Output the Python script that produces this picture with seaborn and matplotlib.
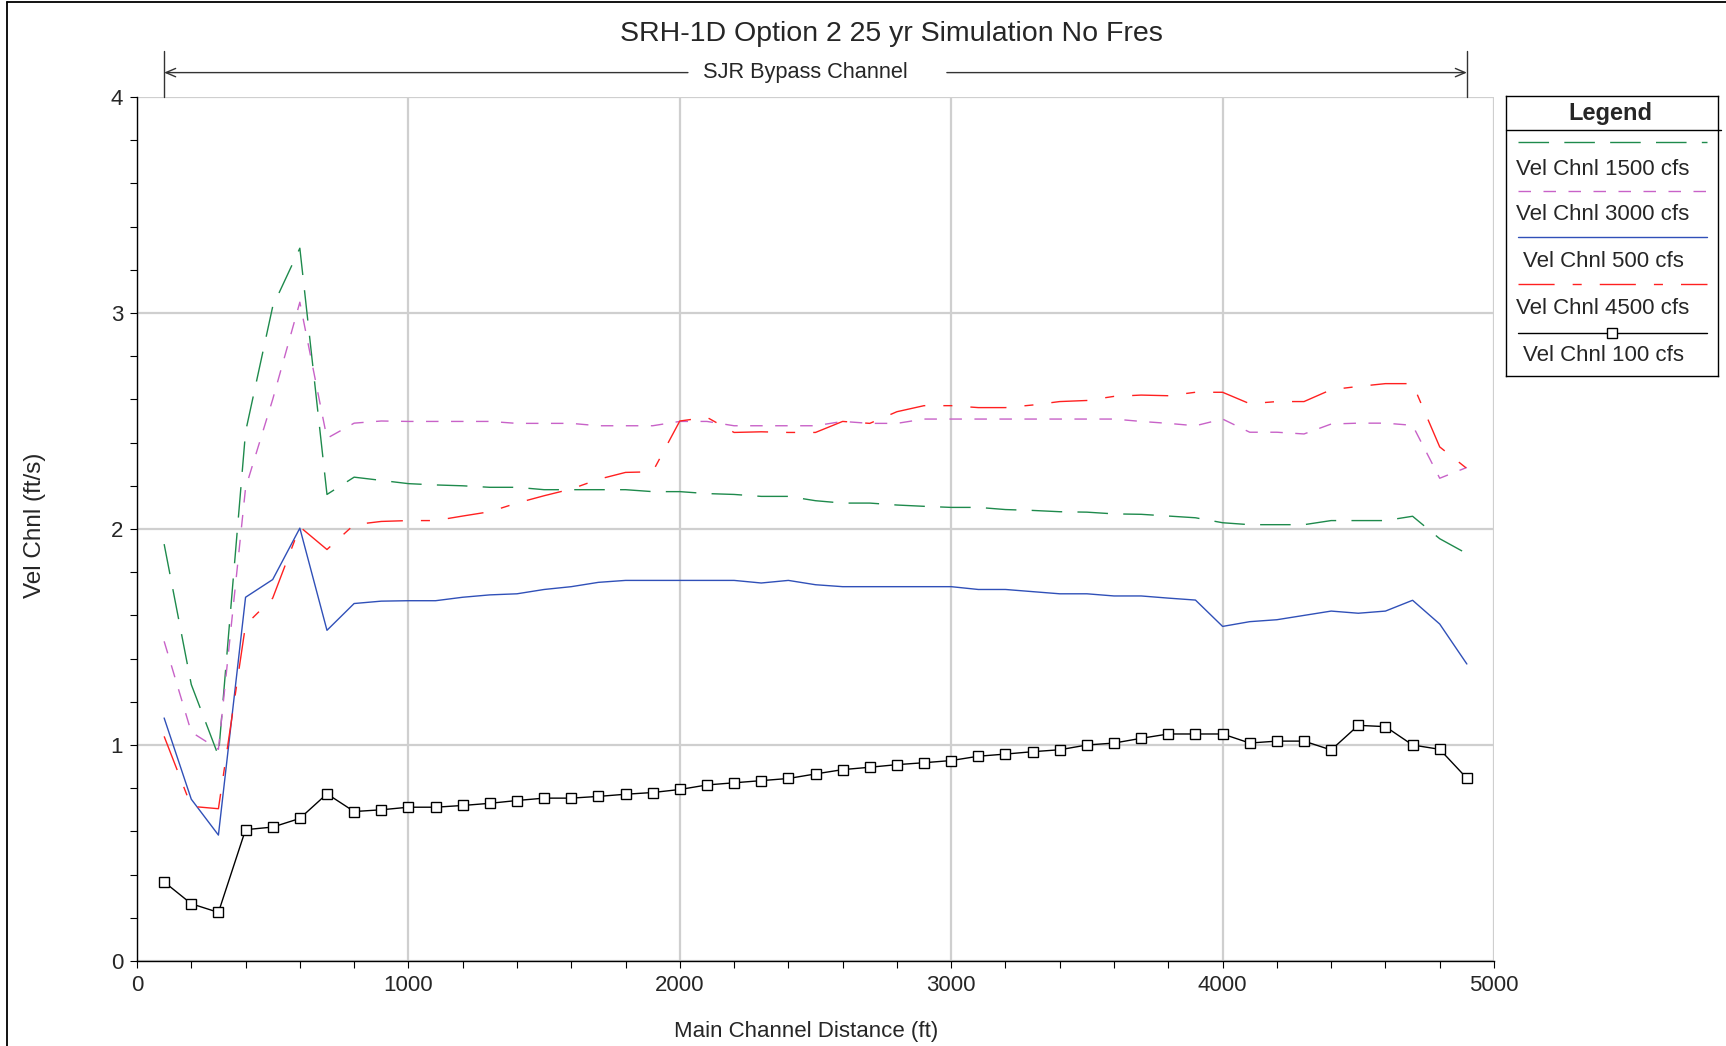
import numpy as np
import pandas as pd
import matplotlib
matplotlib.use("Agg")
import matplotlib.pyplot as plt
import matplotlib.transforms as mtransforms
from matplotlib.lines import Line2D
from matplotlib.ticker import MultipleLocator
import seaborn as sns

# ---------------- data ----------------
distance = [100, 200, 300, 400, 500, 600, 700, 800, 900, 1000,
            1100, 1200, 1300, 1400, 1500, 1600, 1700, 1800, 1900, 2000,
            2100, 2200, 2300, 2400, 2500, 2600, 2700, 2800, 2900, 3000,
            3100, 3200, 3300, 3400, 3500, 3600, 3700, 3800, 3900, 4000,
            4100, 4200, 4300, 4400, 4500, 4600, 4700, 4800, 4900]

vel_1500 = [1.93, 1.28, 0.95, 2.45, 3.03, 3.30, 2.16, 2.24, 2.225, 2.21,
            2.204, 2.20, 2.193, 2.193, 2.182, 2.182, 2.182, 2.182, 2.173, 2.173,
            2.164, 2.16, 2.151, 2.151, 2.131, 2.12, 2.12, 2.111, 2.105, 2.10,
            2.10, 2.09, 2.086, 2.08, 2.078, 2.07, 2.068, 2.06, 2.052, 2.029,
            2.02, 2.02, 2.02, 2.039, 2.039, 2.039, 2.059, 1.955, 1.886]

vel_3000 = [1.48, 1.06, 0.98, 2.19, 2.60, 3.05, 2.42, 2.49, 2.50, 2.498,
            2.498, 2.498, 2.498, 2.489, 2.489, 2.489, 2.478, 2.478, 2.478, 2.498,
            2.498, 2.478, 2.478, 2.478, 2.478, 2.498, 2.489, 2.489, 2.509, 2.509,
            2.509, 2.509, 2.509, 2.509, 2.509, 2.509, 2.498, 2.489, 2.478, 2.509,
            2.448, 2.448, 2.44, 2.486, 2.49, 2.49, 2.48, 2.235, 2.285]

vel_500 = [1.125, 0.749, 0.583, 1.684, 1.766, 2.004, 1.531, 1.655, 1.666, 1.668,
           1.668, 1.684, 1.695, 1.70, 1.72, 1.733, 1.753, 1.762, 1.762, 1.762,
           1.762, 1.762, 1.75, 1.762, 1.742, 1.733, 1.733, 1.733, 1.733, 1.733,
           1.72, 1.72, 1.71, 1.70, 1.70, 1.69, 1.69, 1.68, 1.671, 1.549,
           1.571, 1.58, 1.60, 1.62, 1.61, 1.62, 1.67, 1.56, 1.375]

vel_4500 = [1.04, 0.716, 0.705, 1.556, 1.68, 2.01, 1.905, 2.02, 2.035, 2.039,
            2.039, 2.06, 2.08, 2.12, 2.154, 2.185, 2.23, 2.262, 2.265, 2.50,
            2.517, 2.447, 2.45, 2.447, 2.447, 2.498, 2.489, 2.543, 2.571, 2.571,
            2.562, 2.562, 2.574, 2.59, 2.595, 2.614, 2.62, 2.617, 2.633, 2.633,
            2.58, 2.59, 2.59, 2.645, 2.66, 2.673, 2.673, 2.38, 2.28]

vel_100 = [0.366, 0.265, 0.225, 0.608, 0.62, 0.66, 0.774, 0.692, 0.70, 0.712,
           0.712, 0.72, 0.73, 0.743, 0.754, 0.754, 0.762, 0.772, 0.78, 0.794,
           0.815, 0.825, 0.835, 0.845, 0.866, 0.886, 0.897, 0.909, 0.918, 0.928,
           0.948, 0.958, 0.969, 0.978, 1.0, 1.009, 1.031, 1.051, 1.051, 1.051,
           1.009, 1.018, 1.018, 0.977, 1.091, 1.085, 1.0, 0.98, 0.846]

labels = ["Vel Chnl 1500 cfs", "Vel Chnl 3000 cfs", "Vel Chnl 500 cfs",
          "Vel Chnl 4500 cfs", "Vel Chnl 100 cfs"]
values = [vel_1500, vel_3000, vel_500, vel_4500, vel_100]

x_ticks = [0, 1000, 2000, 3000, 4000, 5000]
y_ticks = [0, 1, 2, 3, 4]

title = "SRH-1D Option 2 25 yr Simulation No Fres"
x_label = "Main Channel Distance (ft)"
y_label = "Vel Chnl (ft/s)"
reach_label = "SJR Bypass Channel"
reach_start, reach_end = 100, 4900

# ---------------- styles ----------------
colors = ["#1e8a4c", "#c862c8", "#3050b8", "#ff2020", "#000000"]
styles = [(0, (22, 11)), (0, (9, 9)), "-", (0, (26, 13, 6.5, 13)), "-"]
markers = [None, None, None, None, "s"]

sns.set_style("white")
plt.rcParams["font.family"] = ["Liberation Sans", "DejaVu Sans"]

W, H = 1726, 1046
fig = plt.figure(figsize=(W / 100, H / 100), dpi=100)


def fx(px):
    return px / W


def fy(py):
    return 1 - py / H


AX_L, AX_R, AX_T, AX_B = 137, 1494, 97, 961
ax = fig.add_axes([fx(AX_L), fy(AX_B), (AX_R - AX_L) / W, (AX_B - AX_T) / H])

for lab, vals, col, ls, mk in zip(labels, values, colors, styles, markers):
    df = pd.DataFrame({"x": distance, "y": vals})
    kw = dict(color=col, linewidth=1.0, linestyle=ls)
    if mk:
        kw.update(marker=mk, markersize=7.5, markerfacecolor="white",
                  markeredgecolor="black", markeredgewidth=1.0)
    sns.lineplot(data=df, x="x", y="y", ax=ax, estimator=None, sort=False,
                 legend=False, zorder=3, **kw)

ax.set_xlim(0, 5000)
ax.set_ylim(0, 4)
ax.set_xticks(x_ticks)
ax.set_yticks(y_ticks)
ax.xaxis.set_minor_locator(MultipleLocator(200))
ax.yaxis.set_minor_locator(MultipleLocator(0.2))
ax.grid(True, which="major", color="#cfcfcf", linewidth=1.6, zorder=0)
ax.set_axisbelow(True)
for s in ["top", "right"]:
    ax.spines[s].set_visible(False)
for s in ["left", "bottom"]:
    ax.spines[s].set_color("black")
    ax.spines[s].set_linewidth(1.0)
    ax.spines[s].set_zorder(4)
ax.tick_params(axis="both", which="both", direction="out", length=5,
               width=0.8, color="black", left=True, bottom=True,
               labelsize=16, pad=5)

ax.set_xlabel(x_label, fontsize=16)
ax.set_ylabel(y_label, fontsize=17.5)
ax.xaxis.set_label_coords((806 - AX_L) / (AX_R - AX_L), (AX_B - 1031) / (AX_B - AX_T))
ax.xaxis.label.set_va("center")
ax.yaxis.set_label_coords((35 - AX_L) / (AX_R - AX_L), (AX_B - 525) / (AX_B - AX_T))
ax.yaxis.label.set_va("center")

# title
fig.text(fx(891), fy(34), title, ha="center", va="center", fontsize=20.5)

# reach annotation
trans = mtransforms.blended_transform_factory(ax.transData, ax.transAxes)


def ay(py):
    return (AX_B - py) / (AX_B - AX_T)


y_arrow = ay(72.6)
for xb in (reach_start, reach_end):
    ax.add_line(Line2D([xb, xb], [1.0, ay(50.6)], transform=trans,
                       color="#333333", lw=1.0, clip_on=False))
gap_left, gap_right = 2030, 2984
ax.annotate("", xy=(reach_start, y_arrow), xytext=(gap_left, y_arrow),
            xycoords=trans, textcoords=trans,
            arrowprops=dict(arrowstyle="->,head_length=0.7,head_width=0.3",
                            lw=1.0, color="#333333", shrinkA=0, shrinkB=0))
ax.annotate("", xy=(reach_end, y_arrow), xytext=(gap_right, y_arrow),
            xycoords=trans, textcoords=trans,
            arrowprops=dict(arrowstyle="->,head_length=0.7,head_width=0.3",
                            lw=1.0, color="#333333", shrinkA=0, shrinkB=0))
ax.text(2461, y_arrow, reach_label, transform=trans, ha="center",
        va="center", fontsize=15.7)

# ---------------- custom legend ----------------
LX0, LX1, LY0, LY1 = 1506, 1718, 96, 376
lax = fig.add_axes([fx(LX0), fy(LY1), (LX1 - LX0) / W, (LY1 - LY0) / H])
lax.set_xlim(LX0, LX1)
lax.set_ylim(LY1, LY0)
lax.set_xticks([])
lax.set_yticks([])
lax.set_facecolor("white")
for s in lax.spines.values():
    s.set_color("black")
    s.set_linewidth(1.0)
lax.text(1610, 113, "Legend", ha="center", va="center", fontsize=17,
         fontweight="bold")
lax.plot([LX0, LX1 + 3], [129.5, 129.5], color="black", lw=1.0, clip_on=False)
line_y = [142.3, 191, 237.3, 283.7, 332.7]
text_y = [169, 214, 261.7, 308, 355.7]
for lab, col, ls, mk, ly, ty in zip(labels, colors, styles, markers, line_y, text_y):
    lax.plot([1518, 1707], [ly, ly], color=col, lw=1.0, linestyle=ls)
    if mk:
        lax.plot([1612], [ly], marker=mk, markersize=7.5, markerfacecolor="white",
                 markeredgecolor="black", markeredgewidth=1.0)
    lax.text(1603, ty, lab, ha="center", va="center", fontsize=16)

# figure frame (top and left)
fig.add_artist(Line2D([fx(7), 1.0], [fy(1.5), fy(1.5)], transform=fig.transFigure,
                      color="black", lw=1.3))
fig.add_artist(Line2D([fx(7), fx(7)], [0, fy(1.5)], transform=fig.transFigure,
                      color="black", lw=1.3))

fig.savefig("out.png", dpi=100, facecolor="white")
